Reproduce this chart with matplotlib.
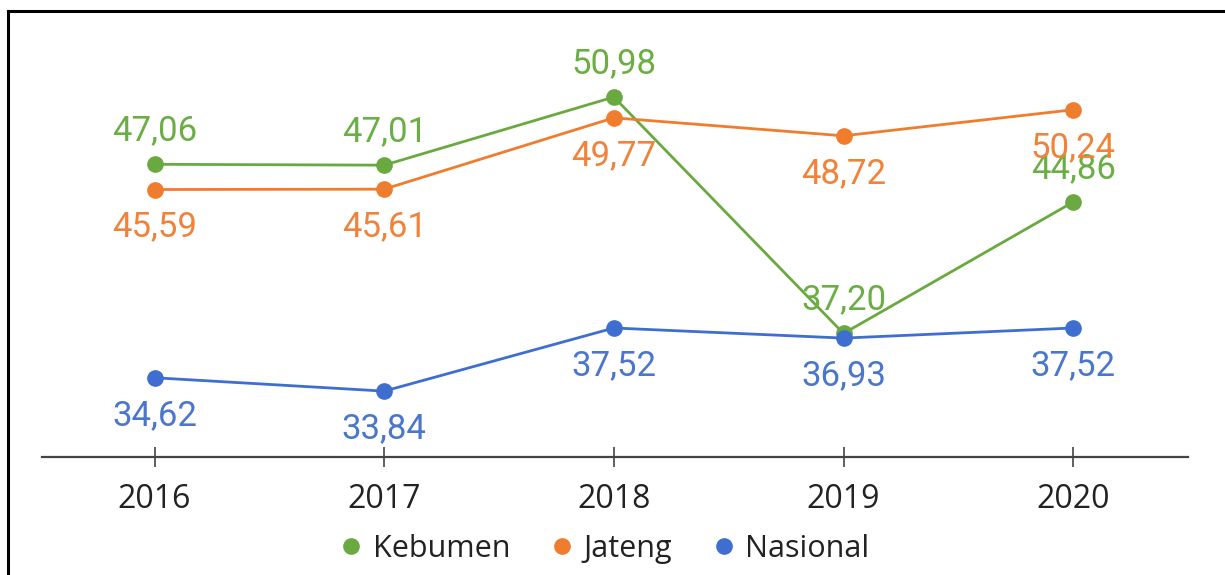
import matplotlib.pyplot as plt
from matplotlib.lines import Line2D

years = ['2016', '2017', '2018', '2019', '2020']
kebumen = [47.06, 47.01, 50.98, 37.20, 44.86]
jateng = [45.59, 45.61, 49.77, 48.72, 50.24]
nasional = [34.62, 33.84, 37.52, 36.93, 37.52]

names = ['Kebumen', 'Jateng', 'Nasional']
colors = ['#6aa940', '#f07c2e', '#3e6fd0']
text_colors = ['#6aae45', '#f0823a', '#4a76cc']
label_pos = ['above', 'below', 'below']

fig = plt.figure(figsize=(12.25, 5.75), dpi=100)
ax = fig.add_axes([0.0343, 0.2052, 0.9355, 0.746])

x = list(range(len(years)))
for vals, c, tc, pos in zip([kebumen, jateng, nasional], colors, text_colors, label_pos):
    ax.plot(x, vals, color=c, linewidth=2.0, marker='o', markersize=11, zorder=3)
    dy = 24 if pos == 'above' else -27
    for xi, v in zip(x, vals):
        ax.annotate(f'{v:.2f}'.replace('.', ','), (xi, v), xytext=(0, dy),
                    textcoords='offset points', ha='center', va='center',
                    color=tc, fontsize=25, family='Roboto', zorder=4)

ax.set_xlim(-0.49, 4.5)
ax.set_ylim(30, 55)
ax.set_yticks([])
for s in ['top', 'right', 'left']:
    ax.spines[s].set_visible(False)
ax.spines['bottom'].set_color('#444444')
ax.spines['bottom'].set_linewidth(1.6)
ax.set_xticks(x)
ax.set_xticklabels(years, fontsize=23, family='Open Sans', color='#222222')
ax.tick_params(axis='x', direction='inout', length=14, width=1.2, color='#444444', pad=12)

handles = [Line2D([], [], marker='o', linestyle='none', color=c, markersize=11) for c in colors]
fig.legend(handles, names, loc='center', bbox_to_anchor=(0.492, 0.045), ncol=3, frameon=False,
           prop={'family': 'Open Sans', 'size': 22}, handletextpad=0.2, columnspacing=1.2,
           handlelength=1.0, labelcolor='#222222')

# frame around the picture (right and bottom edges fall outside)
fig.add_artist(Line2D([8/1225, 1], [1-11/575, 1-11/575], color='black', linewidth=2.2, transform=fig.transFigure))
fig.add_artist(Line2D([8/1225, 8/1225], [0, 1-11/575], color='black', linewidth=2.2, transform=fig.transFigure))

plt.savefig('out.png', dpi=100)
